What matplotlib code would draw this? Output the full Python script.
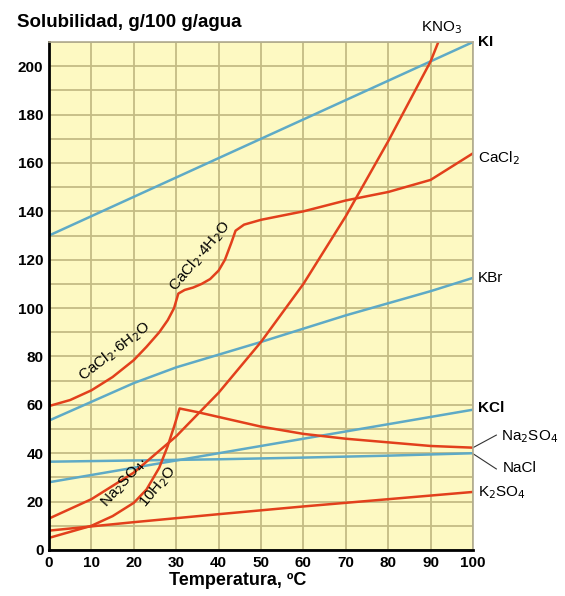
import matplotlib.pyplot as plt
import numpy as np

plt.rcParams['font.family'] = ['Liberation Sans', 'DejaVu Sans']

RED = '#e2401c'
BLUE = '#5eaac6'

ki_t = [0, 20, 40, 60, 80, 100]
ki_s = [130, 146, 162, 178, 194, 210]

kno3_t = [0, 10, 20, 30, 40, 50, 60, 70, 80, 90, 100]
kno3_s = [13, 21, 32, 47, 65, 86, 110, 138, 169, 202, 246]

cacl2_t = [0, 5, 10, 15, 20, 23, 26, 28, 29.5, 30.5, 32, 34, 36, 38, 40, 41.5, 43, 44, 46, 50, 60, 70, 80, 90, 100]
cacl2_s = [59.5, 62, 66, 71.5, 78.5, 84, 90, 95, 100, 106, 107.5, 108.5, 110, 112, 115.5, 120, 127, 132, 134.5, 136.5, 140, 144.5, 148, 153, 164]

kbr_t = [0, 20, 30, 50, 70, 80, 90, 100]
kbr_s = [53.5, 69, 75.5, 86, 97, 102, 107, 112.5]

kcl_t = [0, 20, 40, 60, 80, 100]
kcl_s = [28, 34, 40, 46, 52, 58]

nacl_t = [0, 20, 40, 60, 80, 100]
nacl_s = [36.5, 37, 37.5, 38.2, 39, 40]

k2so4_t = [0, 20, 40, 60, 80, 100]
k2so4_s = [8, 11.5, 14.8, 18, 21, 24]

na2so4_t = [0, 5, 10, 15, 20, 23, 26, 28, 29.5, 30.8, 35, 40, 50, 60, 70, 80, 90, 100]
na2so4_s = [5, 7.5, 10, 14, 19.5, 25, 34, 43, 51, 58.5, 57, 55, 51, 48, 46, 44.5, 43, 42.3]

fig = plt.figure(figsize=(5.65, 5.96), dpi=100)
ax = fig.add_axes([0.0867, 0.0772, 0.7505, 0.8523])
ax.set_facecolor('#fdf9c2')

ax.set_xlim(0, 100)
ax.set_ylim(0, 210)
ax.set_xticks(np.arange(0, 101, 10))
ax.set_yticks(np.arange(0, 201, 20))
ax.set_yticks(np.arange(10, 211, 20), minor=True)
ax.grid(True, which='both', color='#c4bc84', lw=1.3)
ax.set_axisbelow(True)
ax.tick_params(length=0, labelsize=11, pad=4, which='both')
for lab in ax.get_xticklabels() + ax.get_yticklabels():
    lab.set_fontweight('bold')

for s in ['top', 'right']:
    ax.spines[s].set_color('#b0ab90')
    ax.spines[s].set_linewidth(1.2)
for s in ['left', 'bottom']:
    ax.spines[s].set_color('black')
    ax.spines[s].set_linewidth(2)

ax.plot(ki_t, ki_s, color=BLUE, lw=1.8)
ax.plot(kbr_t, kbr_s, color=BLUE, lw=1.8)
ax.plot(kcl_t, kcl_s, color=BLUE, lw=1.8)
ax.plot(nacl_t, nacl_s, color=BLUE, lw=1.8)
ax.plot(kno3_t, kno3_s, color=RED, lw=1.8)
ax.plot(cacl2_t, cacl2_s, color=RED, lw=1.8)
ax.plot(k2so4_t, k2so4_s, color=RED, lw=1.8)
ax.plot(na2so4_t, na2so4_s, color=RED, lw=1.8)

fig.text(0.03, 0.955, 'Solubilidad, g/100 g/agua', fontsize=13.5, fontweight='bold')
fig.text(0.42, 0.018, 'Temperatura, ºC', fontsize=13, fontweight='bold', ha='center')

kw = dict(fontsize=11, va='center', clip_on=False)
ax.text(101.2, 210, 'KI', fontweight='bold', **kw)
ax.text(92.5, 216, r'KNO$_3$', ha='center', **kw)
ax.text(101.2, 162, r'CaCl$_2$', **kw)
ax.text(101.2, 112.5, 'KBr', **kw)
ax.text(101.2, 58.5, 'KCl', fontweight='bold', **kw)
ax.text(101.2, 23.5, r'K$_2$SO$_4$', **kw)
ax.text(106.5, 47, r'Na$_2$SO$_4$', **kw)
ax.text(107, 34, 'NaCl', **kw)
ax.plot([100, 105.5], [42.3, 47.5], color='#333333', lw=0.8, clip_on=False)
ax.plot([100, 105.5], [39.8, 33.5], color='#333333', lw=0.8, clip_on=False)

rk = dict(fontsize=11, ha='center', va='center', rotation_mode='anchor')
ax.text(15.5, 82, r'CaCl$_2$·6H$_2$O', rotation=38, **rk)
ax.text(35.5, 121.5, r'CaCl$_2$·4H$_2$O', rotation=50, **rk)
ax.text(17.8, 28, r'Na$_2$SO$_4$·', rotation=48, **rk)
ax.text(25.8, 26, r'10H$_2$O', rotation=50, **rk)

fig.savefig('out.png', dpi=100)
